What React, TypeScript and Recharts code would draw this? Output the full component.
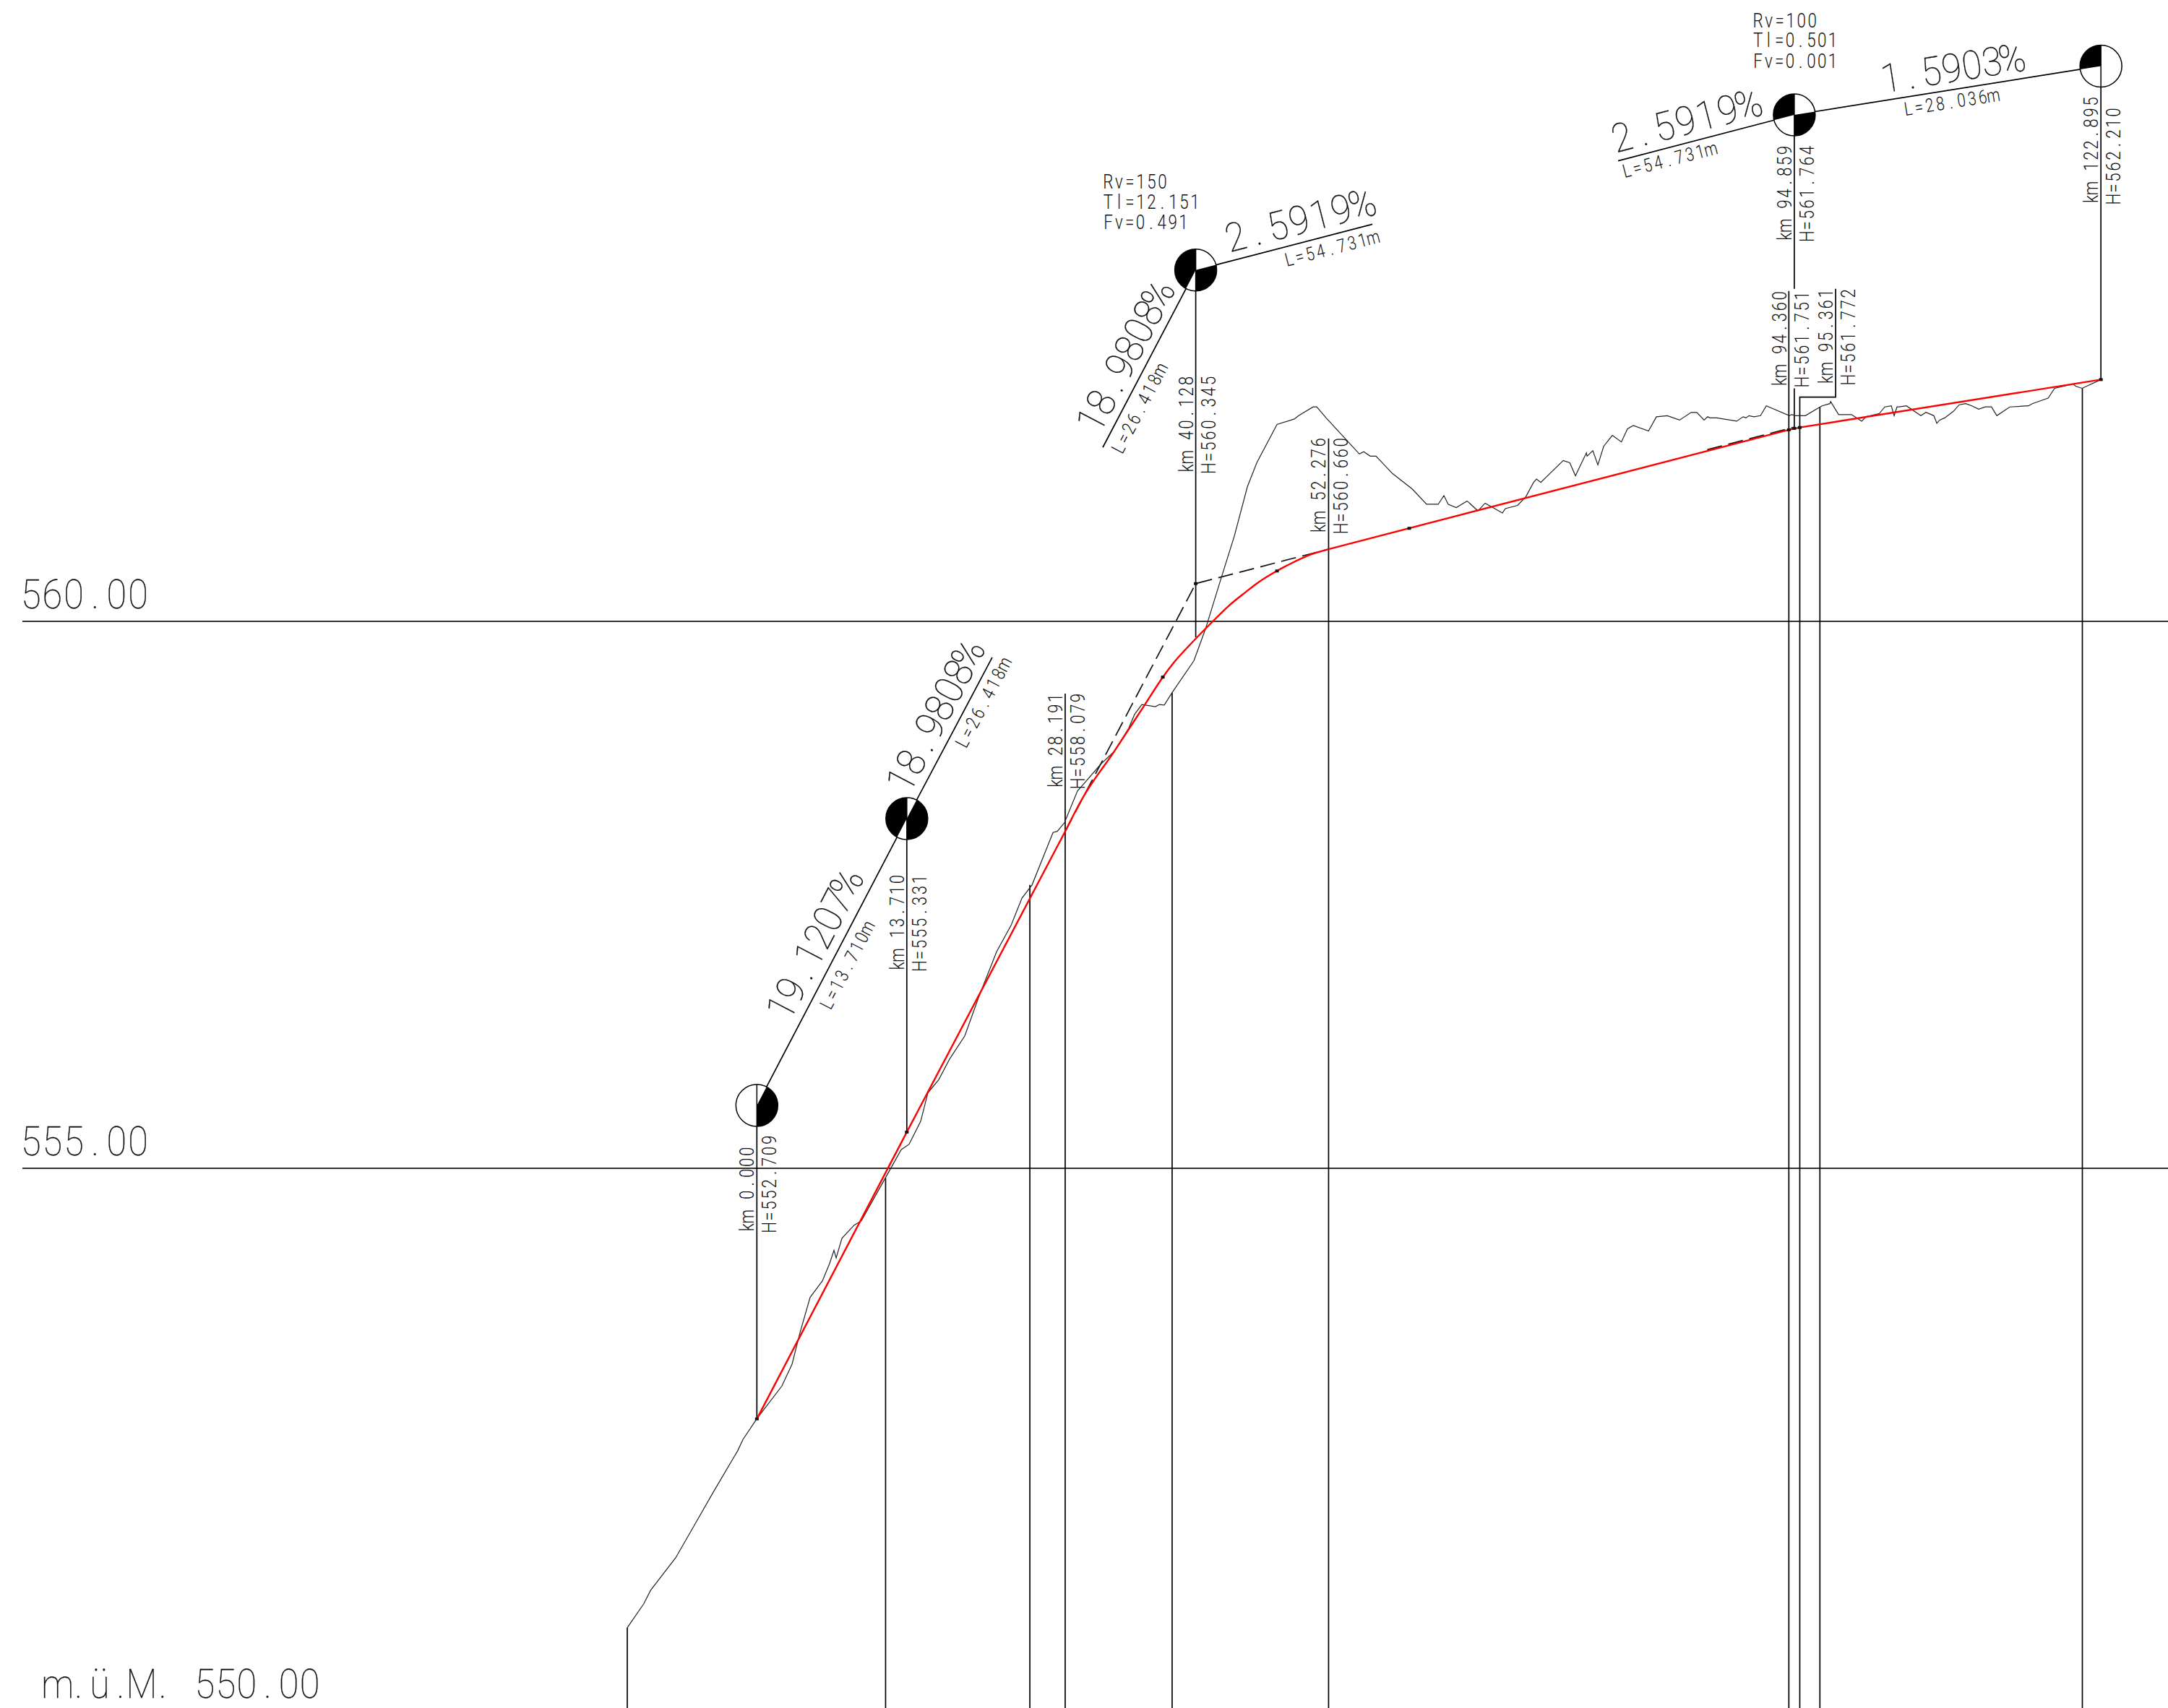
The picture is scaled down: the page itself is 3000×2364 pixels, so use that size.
import React from 'react';
import { ComposedChart, Line, Scatter, XAxis, YAxis, ReferenceDot } from 'recharts';

type Pt = [number, number];

const KM_MIN = -69.206;
const KM_MAX = 129.03;
const H_MIN = 550.066;
const H_MAX = 565.68;

// terrain survey, km / height
const terrain: Pt[] = [
  [-11.85, 550.8], [-10.33, 551.02], [-9.73, 551.14], [-7.42, 551.44], [-5.64, 551.75], [-3.98, 552.04],
  [-1.74, 552.42], [-1.28, 552.52], [0, 552.71], [2.29, 553.01], [3.22, 553.21], [3.95, 553.5],
  [4.87, 553.82], [5.99, 553.97], [6.65, 554.13], [7.05, 554.25], [7.25, 554.18], [7.78, 554.36],
  [8.9, 554.48], [9.56, 554.52], [11.74, 554.91], [13.2, 555.17], [13.92, 555.22], [14.98, 555.43],
  [15.64, 555.69], [16.63, 555.81], [17.63, 556.0], [19.01, 556.21], [20.27, 556.56], [21.92, 556.98],
  [23.24, 557.22], [24.24, 557.47], [25.16, 557.59], [27.08, 558.07], [27.47, 558.08], [28.13, 558.16],
  [29.32, 558.45], [29.85, 558.51], [31.5, 558.7], [32.67, 558.81], [33.99, 559.02], [34.54, 559.15],
  [35.2, 559.24], [36.45, 559.22], [36.8, 559.24], [37.25, 559.235], [37.98, 559.35], [39.96, 559.64],
  [41.02, 559.93], [42.47, 560.4], [43.66, 560.78], [44.85, 561.23],
  [45.71, 561.45], [47.56, 561.8], [49.15, 561.85], [49.54, 561.88], [50.86, 561.96], [51.19, 561.96],
  [52.05, 561.86], [53.71, 561.68], [55.09, 561.53], [55.49, 561.55], [56.09, 561.51], [56.61, 561.51],
  [58.13, 561.35], [59.92, 561.21], [61.24, 561.07], [62.3, 561.07], [62.82, 561.15], [63.22, 561.07],
  [63.95, 561.04], [64.94, 561.1], [65.93, 561.01], [66.59, 561.08], [68.17, 560.99], [68.44, 561.03],
  [69.56, 561.06], [70.32, 561.14], [71.02, 561.27], [71.29, 561.3], [71.68, 561.27], [73.73, 561.47],
  [74.33, 561.45], [74.85, 561.33], [75.85, 561.54], [75.91, 561.51], [76.44, 561.56], [76.9, 561.43],
  [77.43, 561.6], [78.22, 561.7], [79.05, 561.64], [79.61, 561.76], [80.14, 561.79], [81.53, 561.74],
  [82.25, 561.87], [83.25, 561.88], [84.37, 561.84], [85.43, 561.91], [85.95, 561.91], [86.61, 561.84],
  [86.94, 561.87], [87.14, 561.86], [87.77, 561.86], [89.59, 561.83], [90.18, 561.87], [90.45, 561.86],
  [90.71, 561.88], [91.18, 561.87], [91.77, 561.88], [92.3, 561.97], [94.41, 561.88], [94.61, 561.89],
  [95.01, 561.88], [95.87, 561.88], [97.39, 561.97], [98.12, 561.99], [98.18, 562.01], [98.91, 561.89],
  [100.1, 561.89], [101.02, 561.83], [101.42, 561.87], [102.64, 561.9], [103.13, 561.96], [103.73, 561.97],
  [103.99, 561.88], [104.25, 561.96], [104.45, 561.96], [105.11, 561.97], [106.43, 561.88], [106.9, 561.91],
  [107.62, 561.88], [107.89, 561.81], [108.15, 561.84], [108.61, 561.86], [109.41, 561.92], [109.94, 561.98],
  [110.53, 561.99], [111.1, 561.97], [111.72, 561.94], [112.32, 561.96], [112.89, 561.96], [113.38, 561.88],
  [114.56, 561.96], [116.28, 561.97], [116.61, 561.99], [118.07, 562.04], [118.66, 562.13], [120.38, 562.17],
  [120.58, 562.15], [121.18, 562.13], [122.895, 562.21],
];

// red grade line: two straight runs and the big vertical curve between them
const gradeRise: Pt[] = [[0, 552.709], [13.71, 555.331], [28.191, 558.079]];
const gradeCurve: Pt[] = [
  [28.191, 558.079], [29.7, 558.37], [32.67, 558.81], [35.42, 559.23],
  [37.12, 559.49], [38.06, 559.615], [39.83, 559.81], [41.59, 559.99], [43.13, 560.14], [44.67, 560.265],
  [45.77, 560.35], [47.54, 560.46], [48.86, 560.53], [50.62, 560.61], [52.276, 560.66],
];
const gradeTop: Pt[] = [[52.276, 560.66], [94.36, 561.751], [95.361, 561.772], [122.895, 562.21]];

const dashedTangents: Pt[][] = [
  [[28.191, 558.079], [40.128, 560.345], [52.276, 560.66]],
  [[86.9, 561.569], [94.859, 561.775]],
];

// schematic tangent polygon drawn above the profile
const benchKm = [0, 13.71, 40.128, 94.859, 122.895];
const benchH = [555.575, 558.197, 563.211, 564.63, 565.076];
const grades = [19.1207, 18.9808, 2.5919, 1.5903];
const gradeLabels = ['19.1207%', '18.9808%', '18.9808%', '2.5919%', '2.5919%', '1.5903%'];
const lengthLabels = ['L=13.710m', 'L=26.418m', 'L=26.418m', 'L=54.731m', 'L=54.731m', 'L=28.036m'];

const tangentRuns: Pt[][] = [
  [[0, 555.575], [13.71, 558.197], [21.52, 559.67]],
  [[31.63, 561.59], [40.128, 563.211]],
  [[40.128, 563.211], [56.28, 563.63]],
  [[78.75, 564.21], [94.859, 564.63]],
  [[94.859, 564.63], [122.895, 565.076]],
];

const risers: Pt[][] = [
  [[0, 555.575], [0, 552.709]],
  [[13.71, 558.197], [13.71, 555.331]],
  [[40.128, 563.211], [40.128, 559.854]],
  [[94.859, 564.63], [94.859, 563.04]],
  [[94.859, 562.13], [94.859, 561.764]],
  [[122.895, 565.076], [122.895, 562.21]],
];

// lines running down to the bottom edge
const dropKm = [-11.85, 11.77, 24.96, 28.191, 37.97, 52.276, 94.36, 97.2, 121.2];
const dropTop = [550.8, 554.91, 557.59, 559.34, 559.35, 561.67, 563.02, 561.96, 562.13];
const elbow: Pt[] = [[98.64, 563.04], [98.64, 562.05], [95.361, 562.05], [95.361, H_MIN]];

const datums: Pt[][] = [
  [[-67.16, 560], [KM_MAX, 560]],
  [[-67.16, 555], [KM_MAX, 555]],
];

const nodeDots: Pt[] = [
  [0, 552.709], [13.71, 555.331], [37.12, 559.49], [40.128, 560.345], [47.56, 560.46], [59.65, 560.85],
  [94.36, 561.751], [94.859, 561.764], [95.361, 561.772], [122.895, 562.21],
];

const toRows = (pts: Pt[]) => pts.map(([km, h]) => ({ km, h }));

const benchRows = benchKm.map((km, i) => ({
  km,
  h: benchH[i],
  gradeIn: i > 0 ? grades[i - 1] : null,
  gradeOut: i < grades.length ? grades[i] : null,
}));

const FONT = 'Roboto, "Open Sans", sans-serif';
const INK = '#111';

const Bench = (props: any) => {
  const { cx, cy, payload } = props;
  const r = 29;
  const parts: string[] = [];
  if (payload.gradeIn != null) {
    const a = Math.atan(payload.gradeIn / 10);
    parts.push(`M${cx} ${cy}L${cx} ${cy - r}A${r} ${r} 0 0 0 ${cx - r * Math.cos(a)} ${cy + r * Math.sin(a)}Z`);
  }
  if (payload.gradeOut != null) {
    const a = Math.atan(payload.gradeOut / 10);
    parts.push(`M${cx} ${cy}L${cx + r * Math.cos(a)} ${cy - r * Math.sin(a)}A${r} ${r} 0 0 1 ${cx} ${cy + r}Z`);
  }
  return (
    <g>
      <circle cx={cx} cy={cy} r={r} fill="#fff" stroke="#000" strokeWidth={1.5} />
      <path d={parts.join('')} fill="#000" />
      <line x1={cx} y1={cy - r} x2={cx} y2={cy + r} stroke="#000" strokeWidth={1.5} />
    </g>
  );
};

const NodeDot = (props: any) => <rect x={props.cx - 2.5} y={props.cy - 2} width={5} height={4} fill="#111" />;

// text pinned to a km / height position, each glyph in an equal cell like the CAD font
const note = (text: string, km: number, h: number, angle: number, length: number, size: number, dx = 0) => {
  const big = size > 40;
  const squeeze = big ? 0.92 : 0.8;
  const chars = Array.from(text);
  const pitch = length / chars.length;
  const xs = chars.map((_, i) => ((i + 0.5) * pitch) / squeeze).join(' ');
  return (
    <ReferenceDot
      key={`${text}-${km}-${dx}`}
      x={km}
      y={h}
      r={0}
      ifOverflow="visible"
      shape={(p: any) => (
        <text
          transform={`translate(${p.cx + dx} ${p.cy}) rotate(${angle}) scale(${squeeze} 1)`}
          x={xs}
          y={0}
          textAnchor="middle"
          fontFamily={FONT}
          fontWeight={big ? 100 : 300}
          fontSize={size}
          fill={INK}
          stroke={big ? INK : 'none'}
          strokeWidth={big ? 0.3 : 0}
        >
          {text}
        </text>
      )}
    />
  );
};

// pair of upright labels either side of a station line
const station = (km: string, h: string, atKm: number, baseH: number, kmLen: number, hLen: number) => [
  note(`km ${km}`, atKm, baseH, -90, kmLen, 28, -4),
  note(`H=${h}`, atKm, baseH, -90, hLen, 28, 27),
];

const path = (rows: Pt[], key: string, stroke: string, width: number, dash?: string, curve: any = 'linear') => (
  <Line
    key={key}
    type={curve}
    data={toRows(rows)}
    dataKey="h"
    stroke={stroke}
    strokeWidth={width}
    strokeDasharray={dash}
    dot={false}
    activeDot={false}
    isAnimationActive={false}
    legendType="none"
  />
);

export default function App() {
  return (
    <div style={{ position: 'absolute', left: 0, top: 0, width: 3000, height: 2364, background: '#fff' }}>
      <ComposedChart width={3000} height={2364} margin={{ top: 0, right: 0, bottom: 0, left: 0 }}>
        <XAxis type="number" dataKey="km" domain={[KM_MIN, KM_MAX]} allowDataOverflow hide />
        <YAxis type="number" dataKey="h" domain={[H_MIN, H_MAX]} allowDataOverflow hide />

        {datums.map((d, i) => path(d, `datum${i}`, '#333', 2))}
        {dropKm.map((km, i) => path([[km, dropTop[i]], [km, H_MIN]], `drop${i}`, '#000', 1.7))}
        {path(elbow, 'elbow', '#000', 1.7)}
        {risers.map((d, i) => path(d, `riser${i}`, '#000', 1.7))}
        {tangentRuns.map((d, i) => path(d, `run${i}`, '#000', 1.7))}
        {dashedTangents.map((d, i) => path(d, `dash${i}`, '#111', 1.7, '21 9'))}
        {path(terrain, 'terrain', '#222', 1.2)}
        {path(gradeRise, 'gradeRise', '#ff0000', 2.4)}
        {path(gradeCurve, 'gradeCurve', '#ff0000', 2.4, undefined, 'monotone')}
        {path(gradeTop, 'gradeTop', '#ff0000', 2.4)}

        <Scatter data={toRows(nodeDots)} shape={NodeDot} isAnimationActive={false} legendType="none" />
        <Scatter data={benchRows} shape={Bench} isAnimationActive={false} legendType="none" />

        {note('560.00', -67.36, 560.12, 0, 178, 55)}
        {note('555.00', -67.36, 555.12, 0, 178, 55)}
        {note('m.ü.M. 550.00', -64.9, 550.16, 0, 378, 55)}

        {note(gradeLabels[0], 2.95, 556.33, -62.4, 222, 55)}
        {note(lengthLabels[0], 6.7, 556.43, -62.4, 134, 26)}
        {note(gradeLabels[1], 13.92, 558.41, -62.2, 225, 55)}
        {note(lengthLabels[1], 19.08, 558.82, -62.2, 138, 26)}
        {note(gradeLabels[2], 31.3, 561.7, -62.2, 224, 55)}
        {note(lengthLabels[2], 33.35, 561.51, -62.2, 138, 26)}
        {note(gradeLabels[3], 43.13, 563.37, -14.5, 211, 55)}
        {note(lengthLabels[3], 48.33, 563.24, -14.5, 135, 26)}
        {note(gradeLabels[4], 78.46, 564.28, -14.5, 211, 55)}
        {note(lengthLabels[4], 79.21, 564.05, -14.5, 135, 26)}
        {note(gradeLabels[5], 102.97, 564.83, -9, 198, 55)}
        {note(lengthLabels[5], 104.89, 564.62, -9, 134, 26)}

        {station('0.000', '552.709', 0, 554.41, 120, 136)}
        {station('13.710', '555.331', 13.71, 556.8, 135, 135)}
        {station('28.191', '558.079', 28.191, 558.47, 133, 133)}
        {station('40.128', '560.345', 40.128, 561.35, 136, 136)}
        {station('52.276', '560.660', 52.276, 560.8, 134, 134)}
        {station('94.360', '561.751', 94.38, 562.14, 134, 134)}
        {station('94.859', '561.764', 94.859, 563.47, 134, 134)}
        {station('95.361', '561.772', 98.64, 562.16, 134, 134)}
        {station('122.895', '562.210', 122.895, 563.81, 150, 135)}

        {note('Rv=150', 31.63, 563.958, 0, 90, 28)}
        {note('Tl=12.151', 31.63, 563.77, 0, 135, 28)}
        {note('Fv=0.491', 31.63, 563.586, 0, 119, 28)}
        {note('Rv=100', 91.05, 565.43, 0, 90, 28)}
        {note('Tl=0.501', 91.05, 565.25, 0, 118, 28)}
        {note('Fv=0.001', 91.05, 565.06, 0, 118, 28)}
      </ComposedChart>
    </div>
  );
}
